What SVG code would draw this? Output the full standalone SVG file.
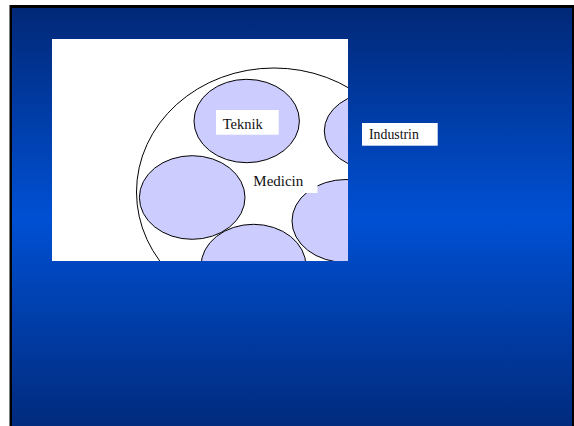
<svg xmlns="http://www.w3.org/2000/svg" width="574" height="426" viewBox="0 0 574 426">
  <defs>
    <linearGradient id="bg" x1="0" y1="0" x2="0" y2="1">
      <stop offset="0" stop-color="#012877"/>
      <stop offset="0.5" stop-color="#0050d4"/>
      <stop offset="1" stop-color="#012a7c"/>
    </linearGradient>
    <clipPath id="pic"><rect x="52" y="39" width="296" height="222"/></clipPath>
    <style>
      .sub { fill: #ccccff; stroke: #000; stroke-width: 1; }
      .lbl { font-family: "Liberation Serif", "Times New Roman", serif; fill: #111; }
    </style>
  </defs>
  <rect x="0" y="0" width="574" height="426" fill="#ffffff"/>
  <rect x="9.5" y="5" width="566" height="425" fill="#000"/>
  <rect x="12" y="8" width="560" height="420" fill="url(#bg)"/>
  <g id="picture" clip-path="url(#pic)">
    <rect x="52" y="39" width="296" height="222" fill="#fff"/>
    <ellipse id="outer" cx="274" cy="192" rx="137.5" ry="124" fill="#fff" stroke="#000" stroke-width="1"/>
    <g id="teknik">
      <ellipse class="sub" cx="246.7" cy="121" rx="52.7" ry="41.7"/>
    </g>
    <g id="upper-right">
      <ellipse class="sub" cx="377" cy="131" rx="52.7" ry="39"/>
    </g>
    <g id="left">
      <ellipse class="sub" cx="192.2" cy="197.5" rx="52.8" ry="41.8"/>
    </g>
    <g id="bottom">
      <ellipse class="sub" cx="253.5" cy="266" rx="52.5" ry="41.7"/>
    </g>
    <g id="lower-right">
      <ellipse class="sub" cx="346" cy="221" rx="54" ry="41.5"/>
    </g>
    <g id="teknik-label">
      <rect x="216" y="110" width="62.7" height="24.7" fill="#fff"/>
      <text class="lbl" x="222.7" y="129" font-size="14.5">Teknik</text>
    </g>
    <g id="medicin">
      <rect x="248" y="168" width="69.5" height="25" fill="#fff"/>
      <text class="lbl" x="253.3" y="185.7" font-size="15">Medicin</text>
    </g>
  </g>
  <g id="industrin">
    <rect x="362" y="123" width="75.7" height="22.7" fill="#fff"/>
    <text class="lbl" x="369" y="139" font-size="13.8">Industrin</text>
  </g>
  <g id="connectors"/>
</svg>
